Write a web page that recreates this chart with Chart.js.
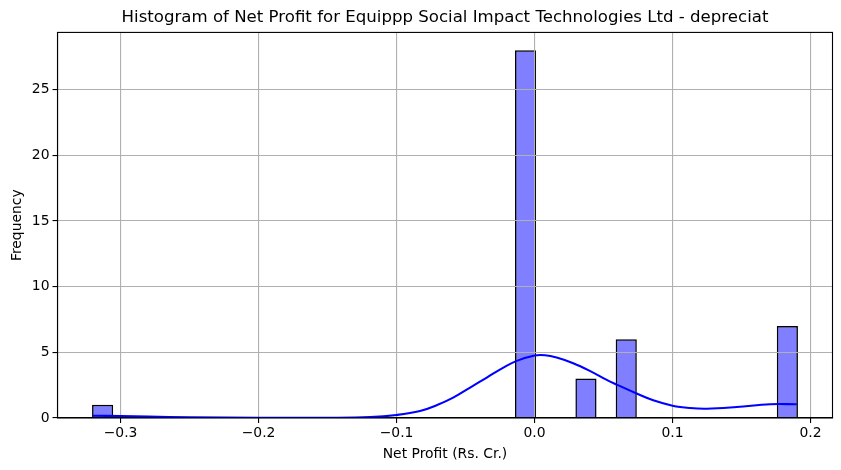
<!DOCTYPE html>
<html><head><meta charset="utf-8">
<style>html,body{margin:0;padding:0;background:#fff}canvas{display:block}</style>
<script src="https://cdn.jsdelivr.net/npm/chart.js@4"></script></head>
<body><canvas id="c" width="841" height="470"></canvas>
<script>
const binStart = -0.3203;
const binWidth = 0.014594;
const binCounts = [1,0,0,0,0,0,0,0,0,0,0,0,0,0,0,0,0,0,0,0,0,28,0,0,3,0,6,0,0,0,0,0,0,0,7];
const kdeX = [-0.32,-0.30,-0.28,-0.25,-0.20,-0.15,-0.119,-0.10,-0.083,-0.071,-0.059,-0.047,-0.0346,-0.0226,-0.0129,0,0.0076,0.016,0.028,0.04,0.0523,0.0596,0.074,0.086,0.10,0.1127,0.1248,0.1465,0.1707,0.19];
const kdeY = [0.17,0.15,0.11,0.06,0.02,0.02,0.07,0.23,0.53,0.97,1.55,2.3,3.08,3.84,4.35,4.76,4.78,4.6,4.17,3.59,2.9,2.54,1.86,1.35,0.94,0.76,0.71,0.84,1.05,1.05];
const xTicks = [-0.3,-0.2,-0.1,0,0.1,0.2];
const yTicks = [0,5,10,15,20,25];
const titleText = 'Histogram of Net Profit for Equippp Social Impact Technologies Ltd - depreciat';
const xLabel = 'Net Profit (Rs. Cr.)';
const yLabel = 'Frequency';

const FONT = '"DejaVu Sans"';
const histPoints = binCounts.map((n,i)=>({x:binStart+binWidth*(i+0.5),y:n}));
const kdePoints = kdeX.map((x,i)=>({x,y:kdeY[i]}));

const frame = {
  id:'frame',
  beforeDatasetDraw(chart,args){ if(args.index===1) return false; },
  afterDraw(chart){
    const a=chart.chartArea,ctx=chart.ctx;
    ctx.save();
    ctx.beginPath();ctx.rect(a.left,a.top,a.right-a.left,a.bottom-a.top);ctx.clip();
    chart.getDatasetMeta(1).controller.draw();
    ctx.restore();
    ctx.save();ctx.strokeStyle='#000';ctx.lineWidth=1.1;
    ctx.strokeRect(a.left,a.top,a.right-a.left,a.bottom-a.top);
    ctx.restore();
  }
};
new Chart(document.getElementById('c'),{
  data:{datasets:[
    {type:'bar',data:histPoints,backgroundColor:'rgba(0,0,255,0.5)',borderColor:'#000',
     borderWidth:c=>c.raw&&c.raw.y>0?1.5:0,borderSkipped:'bottom',barPercentage:1.05,categoryPercentage:1,order:1},
    {type:'line',data:kdePoints,borderColor:'#0000ff',borderWidth:2.08,pointRadius:0,
     tension:0.4,fill:false,order:2}
  ]},
  plugins:[frame],
  options:{
    responsive:false,animation:false,
    layout:{padding:{left:0,right:8.5,top:0,bottom:0}},
    plugins:{legend:{display:false},tooltip:{enabled:false},
      title:{display:true,fullSize:false,text:titleText,color:'#000',font:{family:FONT,size:16.6,weight:'normal'},padding:{top:8,bottom:4.5}}},
    scales:{
      x:{type:'linear',min:-0.3457,max:0.2159,offset:false,
        afterBuildTicks:s=>{s.ticks=xTicks.map(v=>({value:v}))},
        afterFit:s=>{s.height=52},
        grid:{offset:false,color:'#b0b0b0',lineWidth:1.1,z:1,tickColor:'#000',tickLength:5,drawTicks:true},
        border:{color:'#000',width:1.1,z:2},
        ticks:{color:'#000',font:{family:FONT,size:13.9},maxRotation:0,padding:2,autoSkip:false,
          callback:v=>{const s=Math.abs(v).toFixed(1);return (v<0?'\u2212':'')+s}},
        title:{display:true,text:xLabel,color:'#000',font:{family:FONT,size:13.9},padding:{top:3,bottom:7.5}}},
      y:{type:'linear',min:0,max:29.35,
        afterBuildTicks:s=>{s.ticks=yTicks.map(v=>({value:v}))},
        afterFit:s=>{s.width=57.5},
        grid:{color:'#b0b0b0',lineWidth:1.1,z:1,tickColor:'#000',tickLength:5},
        border:{color:'#000',width:1.1,z:2},
        ticks:{color:'#000',font:{family:FONT,size:13.9},padding:3,autoSkip:false,callback:v=>String(v)},
        title:{display:true,text:yLabel,color:'#000',font:{family:FONT,size:13.9},padding:{top:9,bottom:3}}}
    }
  }
});
</script></body></html>
